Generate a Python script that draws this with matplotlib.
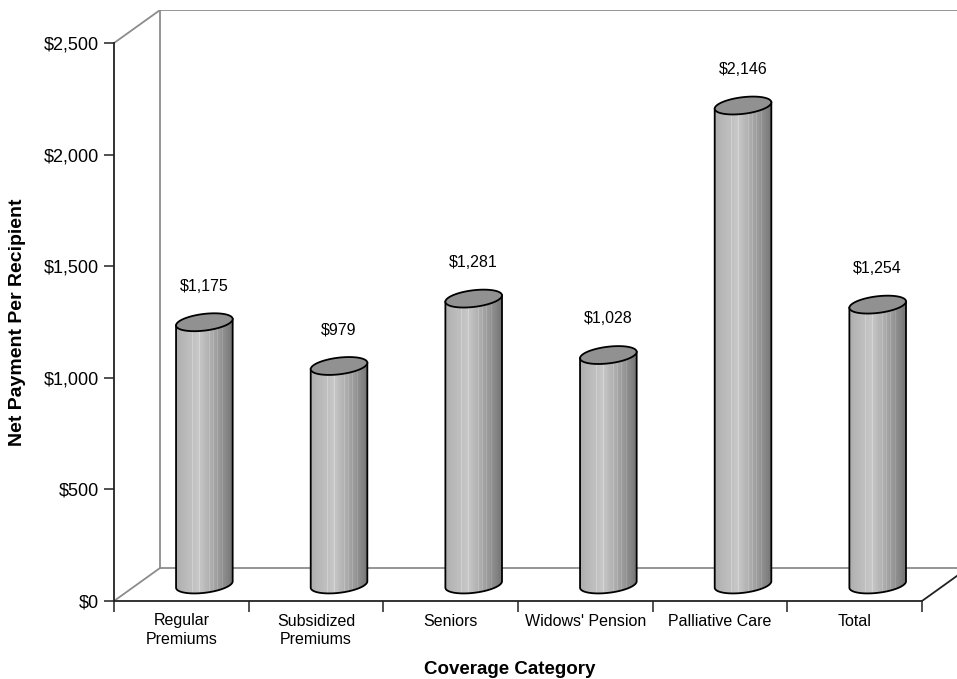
import numpy as np
import matplotlib.pyplot as plt
from matplotlib.patches import Polygon
from matplotlib.lines import Line2D

plt.rcParams['font.family'] = ['Liberation Sans', 'DejaVu Sans']

CATEGORIES = ["Regular\nPremiums", "Subsidized\nPremiums", "Seniors",
              "Widows' Pension", "Palliative Care", "Total"]
PAYMENTS = [1175, 979, 1281, 1028, 2146, 1254]
YTICKS = [0, 500, 1000, 1500, 2000, 2500]

# fake 3D box: how far the back wall sits behind the front axes
DEPTH_X = 0.342   # in category units
DEPTH_Y = 148     # in dollars
YMAX = 2500

# cylinder cap ellipse, in pixels
CAP_A = 28.5
CAP_B = 8.3
CAP_TILT = np.radians(7)

WALL = '#8c8c8c'
AXIS = '#222222'

fig = plt.figure(figsize=(9.57, 6.79), dpi=100)
ax = fig.add_axes([114 / 957, 78 / 679, 843 / 957, 591 / 679])
xlim = (-0.5, 5.5 + 0.26)
ylim = (0, YMAX + DEPTH_Y)
ax.set_xlim(*xlim)
ax.set_ylim(*ylim)

# pixels per data unit, needed to keep the ellipses round on screen
p0 = ax.transData.transform((0, 0))
p1 = ax.transData.transform((1, 1))
sx, sy = p1[0] - p0[0], p1[1] - p0[1]

# back wall and floor
bx = -0.5 + DEPTH_X
wall_lines = [
    ([-0.5, bx], [0, DEPTH_Y]),
    ([bx, bx], [DEPTH_Y, YMAX + DEPTH_Y]),
    ([-0.5, bx], [YMAX, YMAX + DEPTH_Y]),
    ([bx, xlim[1] + 1], [YMAX + DEPTH_Y, YMAX + DEPTH_Y]),
    ([bx, 5.5 + DEPTH_X], [DEPTH_Y, DEPTH_Y]),
]
for xs, ys in wall_lines:
    ax.plot(xs, ys, color=WALL, lw=1.3, zorder=1)
ax.plot([5.5, 5.5 + DEPTH_X], [0, DEPTH_Y], color=AXIS, lw=1.3, zorder=1)


def cap(t):
    ex = CAP_A * np.cos(t) * np.cos(CAP_TILT) - CAP_B * np.sin(t) * np.sin(CAP_TILT)
    ey = CAP_A * np.cos(t) * np.sin(CAP_TILT) + CAP_B * np.sin(t) * np.cos(CAP_TILT)
    return ex / sx, ey / sy


t_r = np.arctan2(-CAP_B * np.sin(CAP_TILT), CAP_A * np.cos(CAP_TILT))
t_low = np.linspace(t_r + np.pi, t_r + 2 * np.pi, 80)
t_up = np.linspace(t_r, t_r + np.pi, 80)
t_all = np.linspace(0, 2 * np.pi, 160)

# shading across the cylinder body
u = np.linspace(0, 1, 64)
shade = np.interp(u, [0, 0.1, 0.4, 0.55, 0.8, 1.0],
                  [0.68, 0.71, 0.78, 0.71, 0.58, 0.46])
for s in [0.22, 0.3, 0.42, 0.5, 0.6, 0.68, 0.74, 0.83]:
    shade[int(s * 63)] += 0.06
shade = np.clip(shade, 0, 1)

for i, v in enumerate(PAYMENTS):
    cx = i + DEPTH_X / 2
    y0 = DEPTH_Y / 2
    y1 = v + DEPTH_Y / 2

    lx, ly = cap(t_low)
    ux, uy = cap(t_up)
    body = np.column_stack([np.r_[cx + lx, cx + ux], np.r_[y0 + ly, y1 + uy]])
    clip = Polygon(body, closed=True, facecolor='none', edgecolor='none',
                   transform=ax.transData)
    ax.add_patch(clip)
    xext = np.abs(lx).max()
    yext = np.abs(ly).max()
    im = ax.imshow(shade[None, :], cmap='gray', vmin=0, vmax=1, aspect='auto',
                   interpolation='nearest',
                   extent=[cx - xext, cx + xext, y0 - yext, y1 + yext], zorder=3)
    im.set_clip_path(clip)

    outline_x = np.r_[cx + ux[-1], cx + lx, cx + ux[0]]
    outline_y = np.r_[y1 + uy[-1], y0 + ly, y1 + uy[0]]
    ax.add_line(Line2D(outline_x, outline_y, color='black', lw=1.3, zorder=4))

    tx, ty = cap(t_all)
    ax.add_patch(Polygon(np.column_stack([cx + tx, y1 + ty]), closed=True,
                         facecolor='#919191', edgecolor='black', lw=1.3, zorder=5))

    ax.annotate(f"${v:,}", (cx, y1), xytext=(0, 26), textcoords='offset points',
                ha='center', va='center', fontsize=11.5, zorder=6)

ax.set_xlim(*xlim)
ax.set_ylim(*ylim)

# front axes
for side in ['top', 'right']:
    ax.spines[side].set_visible(False)
ax.spines['left'].set_bounds(0, YMAX)
ax.spines['bottom'].set_bounds(-0.5, 5.5)
for side in ['left', 'bottom']:
    ax.spines[side].set_color(AXIS)
    ax.spines[side].set_linewidth(1.3)

ax.set_yticks(YTICKS)
ax.set_yticklabels([f"${v:,}" for v in YTICKS])
ax.tick_params(axis='y', length=7, width=1.1, pad=3.5, labelsize=13, color=AXIS)

ax.set_xticks(np.arange(-0.5, 6, 1))
ax.set_xticklabels([])
ax.tick_params(axis='x', which='major', length=8, width=1.1, color=AXIS)
ax.set_xticks(range(len(CATEGORIES)), minor=True)
ax.set_xticklabels(CATEGORIES, minor=True)
ax.tick_params(axis='x', which='minor', length=0, pad=9, labelsize=11.5)
for lbl in ax.get_xticklabels(minor=True):
    lbl.set_linespacing(1.3)

fig.text(18 / 957, 1 - 322 / 679, "Net Payment Per Recipient", rotation=90,
         ha='center', va='center', fontsize=14, fontweight='bold')
fig.text(510 / 957, 1 - 669 / 679, "Coverage Category",
         ha='center', va='center', fontsize=13.5, fontweight='bold')

fig.savefig('out.png', dpi=100)
